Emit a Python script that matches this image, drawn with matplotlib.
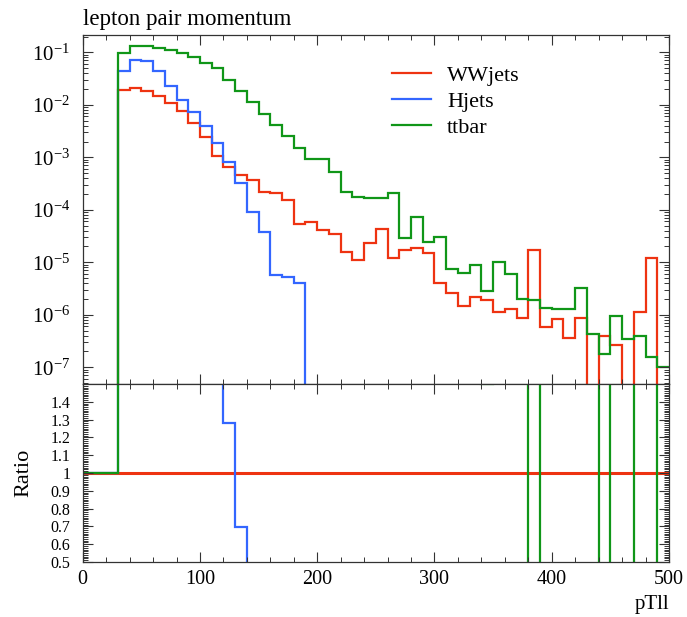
import numpy as np
import matplotlib
matplotlib.use("Agg")
import matplotlib.pyplot as plt
from matplotlib.ticker import MultipleLocator, FixedLocator, LogLocator, NullFormatter, FormatStrFormatter

plt.rcParams['font.family'] = ['Liberation Serif', 'DejaVu Serif']
plt.rcParams['mathtext.fontset'] = 'stix'

# ---------------- data ----------------
bin_edges = np.arange(0, 510, 10)

wwjets = [0, 0, 0, 0.0191, 0.021, 0.0185, 0.0150, 0.0110, 0.0075, 0.0045,
          0.0024, 0.00108, 6.4e-4, 4.6e-4, 3.7e-4, 2.2e-4, 2.1e-4, 1.55e-4, 5.4e-5, 5.8e-5,
          4.1e-5, 3.4e-5, 1.6e-5, 1.1e-5, 2.3e-5, 4.4e-5, 1.19e-5, 1.7e-5, 1.85e-5, 1.5e-5,
          4.0e-6, 2.6e-6, 1.45e-6, 2.2e-6, 1.9e-6, 1.15e-6, 1.3e-6, 8.6e-7, 1.7e-5, 5.9e-7,
          8.2e-7, 3.6e-7, 8.6e-7, 0, 4.0e-7, 2.7e-7, 0, 1.15e-6, 1.2e-5, 0]

hjets = [0, 0, 0, 0.044, 0.072, 0.068, 0.044, 0.0227, 0.0126, 0.0072,
         0.0040, 0.00185, 8.2e-4, 3.2e-4, 9.2e-5, 3.8e-5, 5.7e-6, 5.3e-6, 4.0e-6, 0,
         0, 0, 0, 0, 0, 0, 0, 0, 0, 0,
         0, 0, 0, 0, 0, 0, 0, 0, 0, 0,
         0, 0, 0, 0, 0, 0, 0, 0, 0, 0]

ttbar = [0, 0, 0, 0.097, 0.131, 0.13, 0.121, 0.113, 0.097, 0.081,
         0.063, 0.0496, 0.030, 0.0183, 0.0111, 0.0067, 0.0041, 0.0025, 0.0015, 9.3e-4,
         9.1e-4, 5.3e-4, 2.2e-4, 1.78e-4, 1.66e-4, 1.66e-4, 2.06e-4, 2.86e-5, 7.4e-5, 2.47e-5,
         3.08e-5, 7.4e-6, 6.2e-6, 8.7e-6, 2.848e-6, 1.03e-5, 6.0e-6, 1.97e-6, 1.9e-6, 1.33e-6,
         1.3e-6, 1.3e-6, 3.3e-6, 4.3e-7, 1.8e-7, 9.6e-7, 3.4e-7, 3.9e-7, 1.6e-7, 1.0e-7]

labels = ['WWjets', 'Hjets', 'ttbar']
colors = ['#EE3311', '#3366FF', '#109618']
title = 'lepton pair momentum'
xlabel = 'pTll'
ylabel_ratio = 'Ratio'
ratio_ticks = [0.5, 0.6, 0.7, 0.8, 0.9, 1.0, 1.1, 1.2, 1.3, 1.4]

series = [np.array(wwjets), np.array(hjets), np.array(ttbar)]
ref = series[0]

def ratio(num, den):
    out = np.empty_like(num)
    prev = 1.0
    for i, (n, d) in enumerate(zip(num, den)):
        if d > 0:
            prev = n / d
        elif n > 0:
            prev = 10.0
        out[i] = prev
    return out

# ---------------- figure ----------------
W, H = 687, 617
fig = plt.figure(figsize=(W / 100, H / 100), dpi=100)
left = 82.7 / W
width = (669 - 82.7) / W
ax = fig.add_axes([left, (H - 384) / H, width, (384 - 35) / H])
axr = fig.add_axes([left, (H - 562) / H, width, (562 - 384) / H], sharex=ax)

for s, c, lab in zip(series, colors, labels):
    vals = np.where(s > 0, s, 1e-12)
    ax.stairs(vals, bin_edges, baseline=None, color=c, lw=1.6, label=lab)

ax.set_yscale('log')
ax.set_xlim(0, 500)
ax.set_ylim(4.8e-8, 0.214)

for k, (s, c) in enumerate(zip(series, colors)):
    r = ratio(s, ref)
    axr.stairs(r, bin_edges, baseline=None, color=c, lw=2.2 if k == 0 else 1.6)
axr.set_ylim(0.5, 1.5)

# ticks
for a in (ax, axr):
    a.tick_params(which='both', direction='in', top=True, right=True, colors='#333333',
                  labelcolor='black', labelsize=15)
    a.tick_params(which='major', length=7.5, width=0.8)
    a.tick_params(which='minor', length=3.8, width=0.7)
    a.xaxis.set_major_locator(MultipleLocator(100))
    a.xaxis.set_minor_locator(MultipleLocator(20))
    for sp in a.spines.values():
        sp.set_linewidth(0.9)
        sp.set_color('#333333')

ax.yaxis.set_major_locator(LogLocator(base=10, numticks=20))
ax.yaxis.set_minor_locator(LogLocator(base=10, subs=np.arange(2, 10), numticks=20))
ax.yaxis.set_minor_formatter(NullFormatter())
ax.tick_params(axis='x', labelbottom=False)
ax.tick_params(axis='y', pad=9, labelsize=15)

axr.yaxis.set_major_locator(FixedLocator(ratio_ticks))
axr.yaxis.set_major_formatter(FormatStrFormatter('%g'))
axr.yaxis.set_minor_locator(MultipleLocator(0.01))
axr.tick_params(axis='y', pad=9, labelsize=11.5)
axr.tick_params(axis='x', pad=6, labelsize=14.5)

axr.set_xlabel(xlabel, fontsize=15, loc='right', labelpad=4)
axr.set_ylabel(ylabel_ratio, fontsize=16, labelpad=12)

ax.set_title(title, loc='left', fontsize=16.5, pad=7)

leg = ax.legend(loc='upper left', bbox_to_anchor=(0.527, 0.913), frameon=False,
                fontsize=16, handlelength=1.75, handletextpad=0.75, labelspacing=0.25,
                borderaxespad=0, borderpad=0)

fig.savefig('out.png', dpi=100)
